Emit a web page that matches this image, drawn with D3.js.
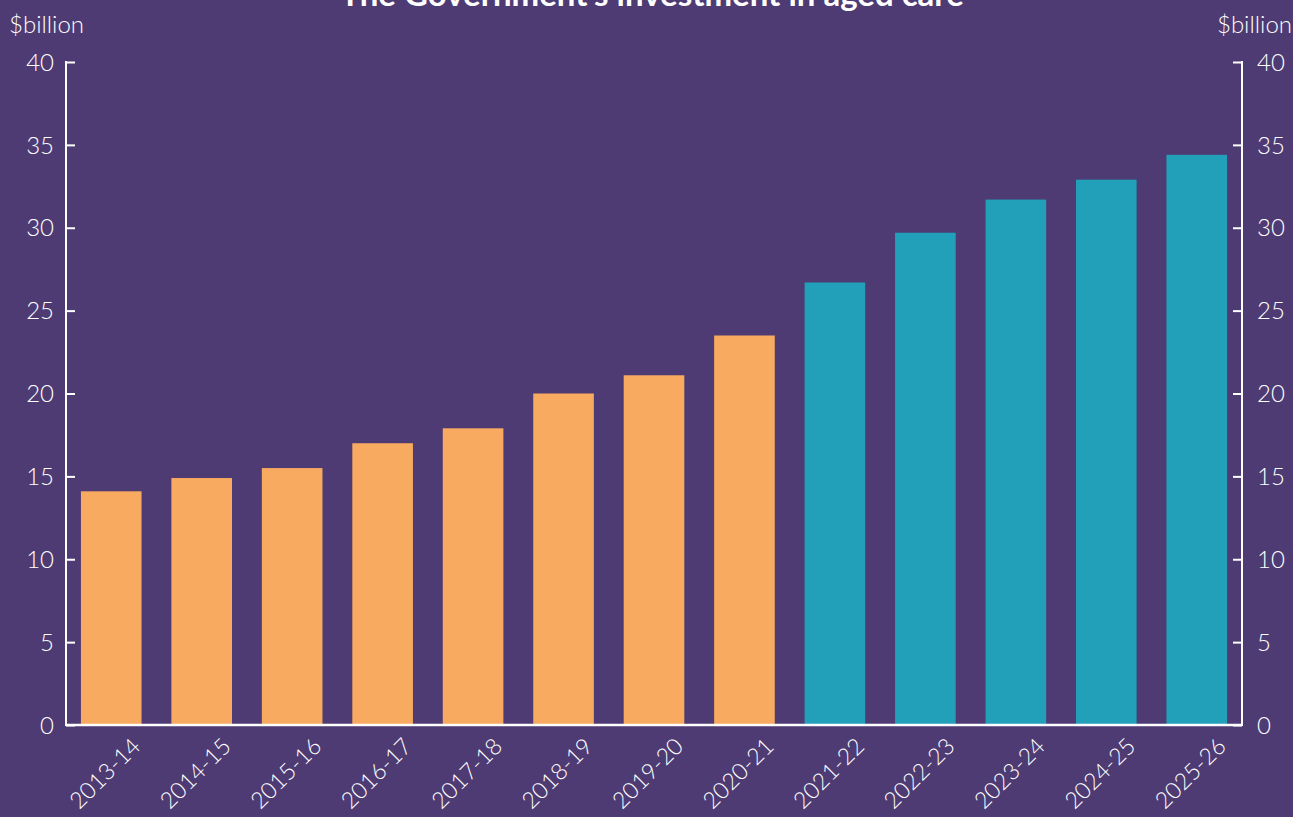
<!DOCTYPE html>
<html><head><meta charset="utf-8">
<script src="https://cdn.jsdelivr.net/npm/d3@7"></script>
<style>
html,body{margin:0;padding:0;background:#4e3b73;}
svg{display:block;font-family:"Lato","Noto Sans",sans-serif;}
</style></head>
<body>
<svg id="chart" width="1293" height="817"></svg>
<script>
const categories = ["2013-14","2014-15","2015-16","2016-17","2017-18","2018-19","2019-20","2020-21","2021-22","2022-23","2023-24","2024-25","2025-26"];
const values = [14.1,14.9,15.5,17.0,17.9,20.0,21.1,23.5,26.7,29.7,31.7,32.9,34.4];
const projected = [false,false,false,false,false,false,false,false,true,true,true,true,true];
const yTicks = [0,5,10,15,20,25,30,35,40];
const title = "The Government\u2019s investment in aged care";
const unitLabel = "$billion";

(function(){
const svg = d3.select("#chart");
const W = 1293, H = 817;
const pL = 66, pR = 1242, pT = 62, pB = 725;
const fs = 24, fw = 300;
svg.append("rect").attr("width",W).attr("height",H).attr("fill","#4e3b73");

const x = d3.scaleBand().domain(categories).range([pL,pR]).paddingInner(0.33).paddingOuter(0.165);
const y = d3.scaleLinear().domain([0,40]).range([pB,pT]);

svg.selectAll("rect.bar").data(categories).enter().append("rect")
  .attr("class","bar")
  .attr("x",d=>x(d)).attr("width",x.bandwidth())
  .attr("y",(d,i)=>y(values[i])).attr("height",(d,i)=>y(0)-y(values[i]))
  .attr("fill",(d,i)=>projected[i]?"#22a0ba":"#f9aa61");

const axisColor = "#ffffff";
const ga = svg.append("g").attr("transform",`translate(${pL},0)`)
  .call(d3.axisRight(y).tickValues(yTicks).tickSize(9).tickFormat(""));
ga.select(".domain").remove();
ga.selectAll("line").attr("stroke",axisColor).attr("stroke-width",2);
svg.append("line").attr("x1",pL).attr("x2",pL).attr("y1",pT-1).attr("y2",pB+1).attr("stroke",axisColor).attr("stroke-width",2);
svg.append("g").selectAll("text").data(yTicks).enter().append("text")
  .attr("x",54).attr("y",d=>y(d)).attr("dy","0.36em").attr("text-anchor","end")
  .attr("fill","#fff").attr("font-size",fs).attr("font-weight",fw).text(d=>d);

const gr = svg.append("g").attr("transform",`translate(${pR},0)`)
  .call(d3.axisLeft(y).tickValues(yTicks).tickSize(9).tickFormat(""));
gr.select(".domain").remove();
gr.selectAll("line").attr("stroke",axisColor).attr("stroke-width",2);
svg.append("line").attr("x1",pR).attr("x2",pR).attr("y1",pT-1).attr("y2",pB+1).attr("stroke",axisColor).attr("stroke-width",2);
svg.append("g").selectAll("text").data(yTicks).enter().append("text")
  .attr("x",1257).attr("y",d=>y(d)).attr("dy","0.36em").attr("text-anchor","start")
  .attr("fill","#fff").attr("font-size",fs).attr("font-weight",fw).text(d=>d);

svg.append("line").attr("x1",pL).attr("x2",pR).attr("y1",pB).attr("y2",pB).attr("stroke",axisColor).attr("stroke-width",2.5);

svg.append("g").selectAll("text").data(categories).enter().append("text")
  .attr("transform",d=>`translate(${x(d)+x.bandwidth()/2+25},${pB+17}) rotate(-45)`)
  .attr("text-anchor","end").attr("dy","0.35em")
  .attr("fill","#fff").attr("font-size",23).attr("font-weight",fw).text(d=>d);

svg.append("text").attr("x",9).attr("y",33).attr("fill","#fff").attr("font-size",fs).attr("font-weight",fw).text(unitLabel);
svg.append("text").attr("x",1292).attr("y",33).attr("text-anchor","end").attr("fill","#fff").attr("font-size",fs).attr("font-weight",fw).text(unitLabel);

svg.append("text").attr("x",652).attr("y",6).attr("text-anchor","middle").attr("fill","#fff")
  .attr("font-size",33).attr("font-weight","bold").text(title);
})();
</script>
</body></html>
